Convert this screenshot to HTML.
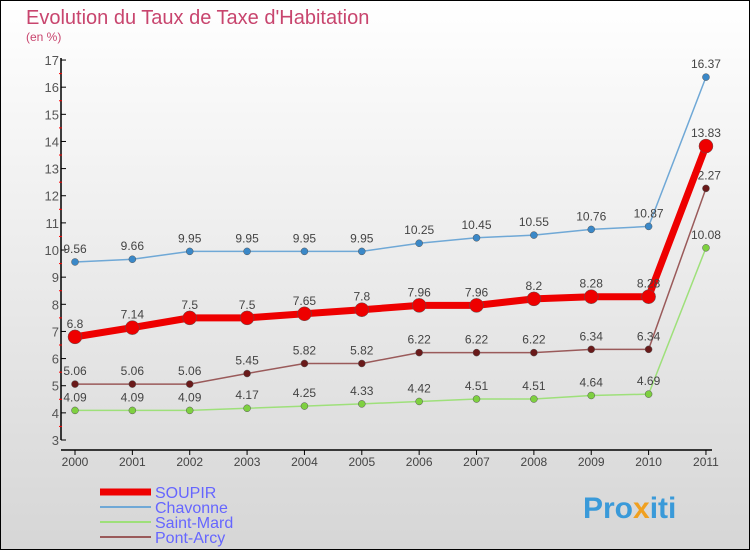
<!DOCTYPE html>
<html><head><meta charset="utf-8"><style>
body{margin:0;width:750px;height:550px;overflow:hidden}
svg{display:block;font-family:"Liberation Sans",sans-serif}
</style></head><body>
<svg id="c" width="750" height="550">
<defs><linearGradient id="bg" x1="0" y1="0" x2="0" y2="1"><stop offset="0" stop-color="#ffffff"/><stop offset="1" stop-color="#d6d6d6"/></linearGradient></defs>
<rect x="0.5" y="0.5" width="749" height="549" fill="url(#bg)" stroke="#000"/>
<text x="26" y="24" font-size="20" fill="#c8456e">Evolution du Taux de Taxe d'Habitation</text>
<text x="26" y="41" font-size="12" fill="#c8456e">(en %)</text>
<g id="axes"></g><g id="series"></g><g id="legend"></g>
<text x="583" y="518" font-size="30" font-weight="bold" fill="#3a9ad9">Pro<tspan fill="#f0a020">x</tspan>iti</text>
</svg>
<script>
const years=["2000","2001","2002","2003","2004","2005","2006","2007","2008","2009","2010","2011"];
const soupir=[6.8,7.14,7.5,7.5,7.65,7.8,7.96,7.96,8.2,8.28,8.28,13.83];
const chavonne=[9.56,9.66,9.95,9.95,9.95,9.95,10.25,10.45,10.55,10.76,10.87,16.37];
const saintMard=[4.09,4.09,4.09,4.17,4.25,4.33,4.42,4.51,4.51,4.64,4.69,10.08];
const pontArcy=[5.06,5.06,5.06,5.45,5.82,5.82,6.22,6.22,6.22,6.34,6.34,12.27];
const yTicks=[3,4,5,6,7,8,9,10,11,12,13,14,15,16,17];
const NS="http://www.w3.org/2000/svg";
const x=i=>75+i*57.36, y=v=>440-(v-3)*27.14;
function mk(p,t,a){const e=document.createElementNS(NS,t);for(const k in a)e.setAttribute(k,a[k]);p.appendChild(e);return e;}
const ax=document.getElementById('axes');
let l=mk(ax,'line',{x1:61,y1:58,x2:61,y2:440,stroke:'#000','stroke-width':1.5});

l=mk(ax,'line',{x1:61,y1:450,x2:712,y2:450,stroke:'#000','stroke-width':1.5});

yTicks.forEach(v=>{
 mk(ax,'line',{x1:61,y1:y(v),x2:66,y2:y(v),stroke:'#000'});
 if(v<17)mk(ax,'line',{x1:59,y1:y(v+0.5),x2:62,y2:y(v+0.5),stroke:'#f00'});
 const t=mk(ax,'text',{x:59,y:y(v)+5,'text-anchor':'end','font-size':13,fill:'#555'});t.textContent=v;
 
});
years.forEach((yr,i)=>{
 mk(ax,'line',{x1:x(i),y1:450,x2:x(i),y2:455,stroke:'#000'});
 const t=mk(ax,'text',{x:x(i),y:466,'text-anchor':'middle','font-size':12,fill:'#444'});t.textContent=yr;
 
});
const S=document.getElementById('series');
function draw(data,name,col,dot,w,r){
 const g=mk(S,'g',{});
 const pts=data.map((v,i)=>x(i)+','+y(v)).join(' ');
 mk(g,'polyline',{points:pts,fill:'none',stroke:col,'stroke-width':w,'stroke-linejoin':'round'});
 data.forEach((v,i)=>{
  const c=mk(g,'circle',{cx:x(i),cy:y(v),r:r,fill:dot,stroke:'#555','stroke-width':0.5});
  
  const t=mk(g,'text',{x:x(i),y:y(v)-9,'text-anchor':'middle','font-size':12,fill:'#444'});t.textContent=v;
  
 });
}
draw(chavonne,'chavonne','#6fa8d6','#3a88c8',1.5,3.5);
draw(pontArcy,'pont-arcy','#9a5a5a','#6a1a1a',1.5,3.5);
draw(saintMard,'saint-mard','#9ee07a','#7ed040',1.5,3.5);
draw(soupir,'soupir','#ee0000','#ee0000',7,7);
const L=document.getElementById('legend');
[["SOUPIR","#ee0000",7],["Chavonne","#6fa8d6",2],["Saint-Mard","#9ee07a",2],["Pont-Arcy","#9a5a5a",2]].forEach((d,i)=>{
 const yy=492+i*15;
 const g=mk(L,'g',{});
 mk(g,'line',{x1:100,y1:yy,x2:151,y2:yy,stroke:d[1],'stroke-width':d[2]});
 const t=mk(g,'text',{x:155,y:yy+6,'font-size':16,fill:'#6666ff'});t.textContent=d[0];
});
</script>
</body></html>
